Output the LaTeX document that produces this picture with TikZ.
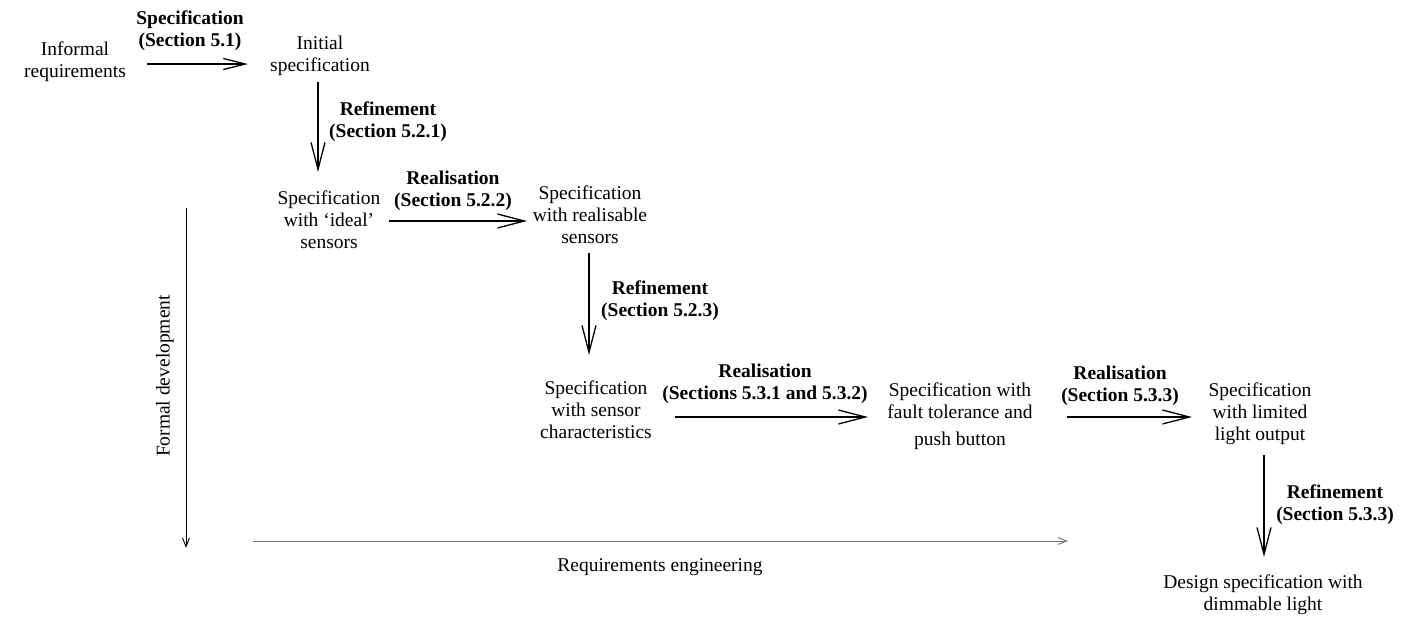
\documentclass[tikz,border=0pt]{standalone}
\usepackage{fontspec}
\setmainfont{Liberation Serif}
\usetikzlibrary{arrows.meta,calc}
\begin{document}
\begin{tikzpicture}[x=1pt,y=-1pt,
  txt/.style={align=center,inner sep=0pt,font=\fontsize{19.5}{22}\selectfont},
  lab/.style={align=center,inner sep=0pt,font=\fontsize{19.5}{22}\selectfont\bfseries},
  arr/.style={line width=1.5pt,-{Straight Barb[length=27pt,width=14pt,line width=1.3pt]}},
  arrsmall/.style={line width=1.5pt,-{Straight Barb[length=22pt,width=11pt,line width=1.3pt]}},
  axis/.style={line width=0.9pt,-{Straight Barb[length=9pt,width=7pt,line width=0.9pt]}}]
\useasboundingbox (0,0) rectangle (1405,621);
\node[txt] (inf) at (75,62) {Informal\\requirements};
\node[txt] (ini) at (320,56) {Initial\\specification};
\node[lab] (l1) at (190,31) {Specification\\(Section 5.1)};
\node[txt] (sid) at (329,220) {Specification\\with ‘ideal’\\sensors};
\node[lab] (l2) at (388,122) {Refinement\\(Section 5.2.1)};
\node[txt] (srs) at (590,215) {Specification\\with realisable\\sensors};
\node[lab] (l3) at (453,191) {Realisation\\(Section 5.2.2)};
\node[txt] (ssc) at (596,410) {Specification\\with sensor\\characteristics};
\node[lab] (l4) at (660,301) {Refinement\\(Section 5.2.3)};
\node[txt] (sft) at (960,416) {Specification with\\fault tolerance and\\[5pt]push button};
\node[lab] (l5) at (765,384) {Realisation\\(Sections 5.3.1 and 5.3.2)};
\node[txt] (sll) at (1260,414) {Specification\\with limited\\light output};
\node[lab] (l6) at (1120,386) {Realisation\\(Section 5.3.3)};
\node[txt] (dsd) at (1263,595) {Design specification with\\dimmable light};
\node[lab] (l7) at (1335,505) {Refinement\\(Section 5.3.3)};
\node[txt,rotate=90] (fd) at (165,376) {Formal development};
\node[txt] (re) at (660,567) {Requirements engineering};
\draw[arrsmall] ($(inf)+(72,2)$) -- ($(ini)+(-72,8)$);
\draw[arr] ($(ini)+(-2,26)$) -- ($(sid)+(-11,-48)$);
\draw[arr] ($(sid)+(60,1)$) -- ($(srs)+(-63,6)$);
\draw[arr] ($(srs)+(-1,38)$) -- ($(ssc)+(-7,-55)$);
\draw[arr] ($(ssc)+(79,7)$) -- ($(sft)+(-92,1)$);
\draw[arr] ($(sft)+(107,1)$) -- ($(sll)+(-68,3)$);
\draw[arr] ($(sll)+(4,41)$) -- ($(dsd)+(1,-38)$);
\draw[axis] ($(fd)+(21,-168)$) -- ($(fd)+(21,172)$);
\draw[axis,draw=black!55] ($(re)+(-407,-26)$) -- ($(re)+(408,-26)$);
\end{tikzpicture}
\end{document}
